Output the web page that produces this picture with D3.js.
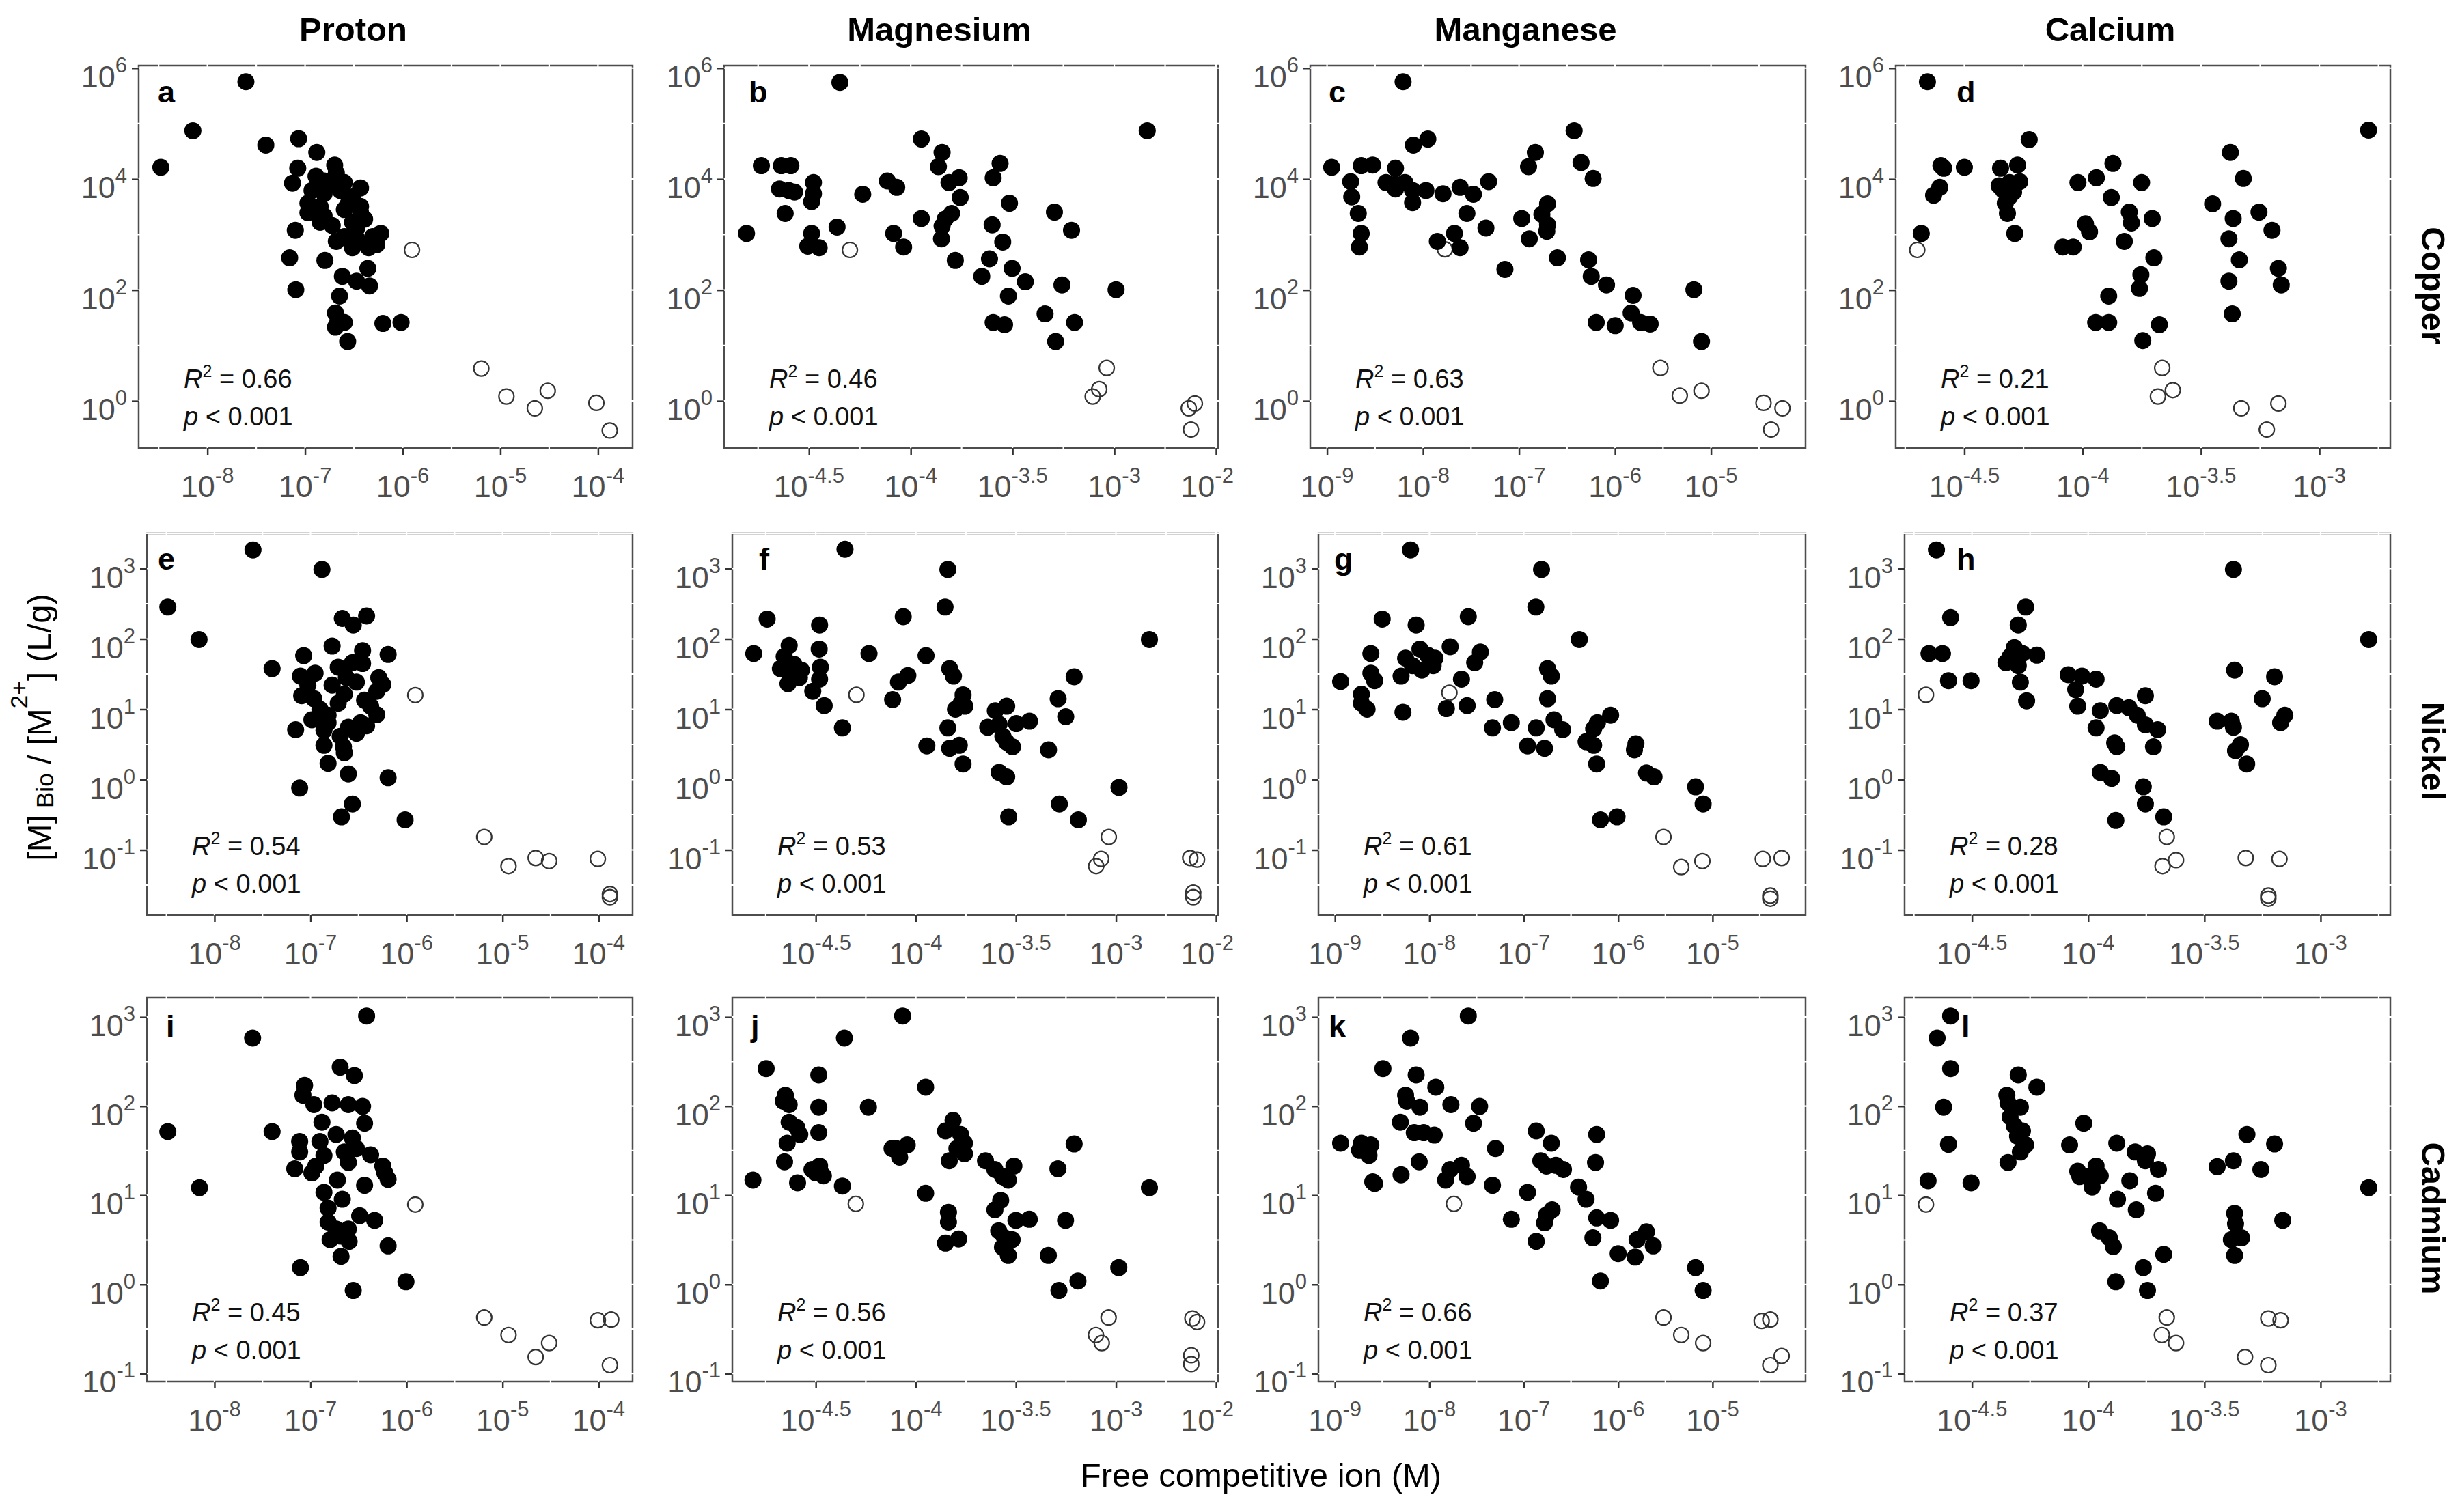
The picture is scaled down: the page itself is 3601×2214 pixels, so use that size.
<!DOCTYPE html>
<html>
<head>
<meta charset="utf-8">
<script src="https://cdn.jsdelivr.net/npm/d3@7"></script>
<style>
  body { margin: 0; background: #fff; }
  text { font-family: "Liberation Sans", Arial, sans-serif; }
</style>
</head>
<body>
<script>

// facet names
var ions = ["Proton", "Magnesium", "Manganese", "Calcium"];
var metals = ["Copper", "Nickel", "Cadmium"];
var panelLetters = ["a","b","c","d","e","f","g","h","i","j","k","l"];
var r2Values = ["0.66","0.46","0.63","0.21","0.54","0.53","0.61","0.28","0.45","0.56","0.66","0.37"];

// tick exponents (base 10)
var xTicks = [[-8,-7,-6,-5,-4], [-4.5,-4,-3.5,-3,-2.5], [-9,-8,-7,-6,-5], [-4.5,-4,-3.5,-3]];
var yTicks = [[0,2,4,6], [-1,0,1,2,3], [-1,0,1,2,3]];

// points: [log10 free ion (M), log10 [M]Bio/[M2+] (L/g)]
// filled = used in regression, open = excluded
var aFill = [[-8.477,4.212],[-8.149,4.871],[-7.606,5.754],[-7.402,4.613],[-7.066,4.728],[-6.880,4.481],[-6.697,4.252],[-6.680,4.109],[-7.075,4.195],[-7.129,3.926],[-6.888,4.052],[-6.805,3.966],[-6.722,3.908],[-6.598,3.937],[-6.432,3.840],[-6.929,3.794],[-6.805,3.736],[-6.639,3.794],[-6.515,3.679],[-6.971,3.564],[-6.846,3.507],[-6.556,3.564],[-6.432,3.507],[-6.971,3.393],[-6.805,3.335],[-6.598,3.450],[-6.432,3.393],[-6.846,3.221],[-6.722,3.163],[-6.515,3.221],[-6.390,3.278],[-7.100,3.077],[-6.473,3.106],[-6.224,3.020],[-6.598,2.963],[-6.680,2.877],[-6.473,2.934],[-6.307,2.963],[-6.515,2.762],[-6.349,2.762],[-6.266,2.819],[-7.158,2.579],[-6.797,2.533],[-6.357,2.390],[-6.618,2.246],[-6.473,2.160],[-6.340,2.074],[-7.095,2.006],[-6.647,1.891],[-6.689,1.587],[-6.664,1.444],[-6.598,1.415],[-6.689,1.330],[-6.203,1.398],[-6.017,1.415],[-6.564,1.072]];
var aOpen = [[-5.905,2.722],[-5.195,0.585],[-4.938,0.080],[-4.647,-0.132],[-4.515,0.183],[-4.017,-0.034],[-3.880,-0.533]];

var bFill = [[-4.348,5.742],[-2.838,4.871],[-3.948,4.722],[-3.846,4.481],[-4.734,4.241],[-4.636,4.241],[-4.589,4.241],[-3.561,4.281],[-3.864,4.223],[-3.595,4.023],[-3.762,4.023],[-3.812,3.937],[-4.478,3.937],[-4.645,3.822],[-4.599,3.794],[-4.571,3.765],[-4.069,3.851],[-4.115,3.966],[-4.236,3.725],[-4.478,3.736],[-3.757,3.668],[-4.487,3.593],[-3.515,3.564],[-3.294,3.404],[-4.617,3.381],[-3.799,3.381],[-3.831,3.278],[-3.948,3.289],[-3.846,3.152],[-3.600,3.175],[-3.210,3.077],[-4.807,3.020],[-4.362,3.135],[-4.084,3.020],[-4.487,3.020],[-4.506,2.791],[-4.450,2.762],[-4.035,2.774],[-3.849,2.923],[-3.548,2.865],[-3.781,2.533],[-3.613,2.562],[-3.502,2.390],[-3.651,2.246],[-3.437,2.149],[-3.257,2.092],[-2.991,2.006],[-3.520,1.891],[-3.340,1.570],[-3.595,1.415],[-3.539,1.375],[-3.195,1.415],[-3.288,1.072]];
var bOpen = [[-4.299,2.722],[-3.037,0.596],[-3.074,0.212],[-3.106,0.080],[-2.604,-0.046],[-2.634,-0.132],[-2.623,-0.516]];

var cFill = [[-8.208,5.754],[-6.426,4.871],[-8.101,4.613],[-7.950,4.722],[-6.830,4.481],[-8.952,4.212],[-6.901,4.223],[-8.644,4.241],[-8.525,4.252],[-6.354,4.298],[-8.287,4.195],[-6.228,4.011],[-8.754,3.954],[-8.386,3.937],[-8.287,3.908],[-8.188,3.937],[-8.109,3.794],[-7.970,3.794],[-7.792,3.736],[-7.614,3.851],[-7.475,3.725],[-7.317,3.954],[-8.287,3.822],[-8.743,3.679],[-8.109,3.576],[-6.703,3.553],[-7.543,3.381],[-8.675,3.381],[-6.972,3.289],[-6.762,3.364],[-6.703,3.175],[-7.345,3.117],[-8.644,3.020],[-7.673,3.020],[-6.711,3.060],[-7.851,2.877],[-7.614,2.762],[-8.663,2.774],[-6.893,2.923],[-6.600,2.579],[-7.147,2.372],[-6.275,2.544],[-6.248,2.246],[-6.089,2.092],[-5.812,1.903],[-5.178,2.006],[-5.832,1.587],[-6.196,1.415],[-5.998,1.358],[-5.733,1.415],[-5.634,1.387],[-5.099,1.072]];
var cOpen = [[-7.772,2.733],[-5.527,0.596],[-5.325,0.097],[-5.099,0.183],[-4.453,-0.034],[-4.255,-0.132],[-4.374,-0.516]];

var dFill = [[-4.656,5.754],[-2.792,4.883],[-4.226,4.711],[-3.376,4.481],[-4.599,4.241],[-4.587,4.195],[-4.500,4.212],[-4.347,4.195],[-4.275,4.252],[-3.872,4.281],[-3.942,4.023],[-4.020,3.937],[-3.751,3.937],[-3.321,4.011],[-4.353,3.880],[-4.309,3.937],[-4.266,3.954],[-4.604,3.851],[-4.630,3.708],[-4.335,3.794],[-4.292,3.765],[-4.327,3.564],[-4.309,3.679],[-3.879,3.668],[-3.451,3.553],[-3.255,3.404],[-3.803,3.404],[-3.706,3.289],[-4.318,3.381],[-3.794,3.209],[-3.364,3.289],[-3.988,3.192],[-3.971,3.049],[-3.200,3.077],[-4.682,3.020],[-4.287,3.020],[-4.084,2.774],[-4.040,2.774],[-3.824,2.877],[-3.382,2.923],[-3.699,2.579],[-3.338,2.544],[-3.754,2.275],[-3.173,2.390],[-3.760,2.029],[-3.382,2.160],[-3.161,2.092],[-3.890,1.891],[-3.945,1.415],[-3.890,1.415],[-3.368,1.570],[-3.676,1.375],[-3.746,1.089]];
var dOpen = [[-4.699,2.722],[-3.664,0.596],[-3.619,0.195],[-3.682,0.080],[-3.330,-0.132],[-3.173,-0.046],[-3.222,-0.516]];

var eFill = [[-8.486,2.453],[-8.161,1.991],[-7.599,3.265],[-6.881,2.987],[-7.400,1.577],[-6.669,2.291],[-6.416,2.325],[-6.555,2.197],[-6.775,1.897],[-6.458,1.833],[-6.192,1.778],[-7.071,1.761],[-7.105,1.470],[-6.952,1.513],[-6.712,1.598],[-6.564,1.662],[-6.458,1.650],[-6.627,1.449],[-6.289,1.449],[-6.247,1.350],[-6.310,1.256],[-7.092,1.192],[-6.965,1.150],[-6.712,1.085],[-6.374,1.043],[-6.902,1.000],[-6.817,0.915],[-6.310,0.923],[-6.986,0.850],[-6.817,0.808],[-6.479,0.808],[-6.606,0.744],[-6.416,0.765],[-7.155,0.709],[-6.860,0.487],[-6.657,0.466],[-6.648,0.380],[-6.817,0.231],[-6.606,0.081],[-6.192,0.026],[-7.113,-0.120],[-6.564,-0.346],[-6.678,-0.530],[-6.015,-0.573],[-7.028,1.342],[-6.775,1.342],[-6.522,1.385],[-6.648,1.214],[-6.437,1.128],[-6.860,0.701],[-6.691,0.615],[-6.522,0.658]];
var eOpen = [[-5.909,1.201],[-5.191,-0.816],[-4.938,-1.231],[-4.655,-1.115],[-4.515,-1.158],[-4.008,-1.128],[-3.882,-1.628],[-3.882,-1.671]];

var fFill = [[-4.354,3.274],[-3.840,2.987],[-3.854,2.453],[-4.063,2.316],[-4.743,2.282],[-4.481,2.197],[-2.833,1.991],[-4.810,1.791],[-4.234,1.791],[-3.949,1.761],[-4.483,1.855],[-4.633,1.906],[-4.658,1.748],[-4.610,1.641],[-4.477,1.598],[-4.677,1.577],[-4.572,1.556],[-3.831,1.577],[-3.812,1.470],[-4.629,1.427],[-4.582,1.449],[-4.481,1.427],[-4.040,1.479],[-4.087,1.385],[-4.639,1.363],[-4.515,1.256],[-3.764,1.205],[-4.116,1.137],[-3.209,1.462],[-3.289,1.150],[-4.458,1.051],[-3.774,1.085],[-3.802,1.000],[-3.755,1.043],[-3.546,1.043],[-3.603,0.979],[-3.432,0.829],[-3.498,0.795],[-3.251,0.893],[-3.641,0.744],[-3.584,0.786],[-4.367,0.735],[-3.840,0.735],[-3.945,0.479],[-3.831,0.444],[-3.783,0.487],[-3.565,0.615],[-3.546,0.530],[-3.517,0.466],[-3.337,0.423],[-3.764,0.222],[-3.584,0.103],[-3.546,0.038],[-2.985,-0.111],[-3.283,-0.346],[-3.536,-0.530],[-3.188,-0.573]];
var fOpen = [[-4.297,1.205],[-3.036,-0.816],[-3.074,-1.128],[-3.099,-1.231],[-2.629,-1.115],[-2.595,-1.137],[-2.614,-1.607],[-2.614,-1.671]];

var gFill = [[-8.200,3.265],[-6.812,2.987],[-6.872,2.453],[-8.500,2.282],[-8.140,2.197],[-7.588,2.316],[-6.412,1.991],[-8.620,1.791],[-7.780,1.889],[-7.460,1.812],[-7.520,1.662],[-8.252,1.726],[-8.100,1.855],[-8.020,1.769],[-7.940,1.726],[-8.180,1.620],[-8.080,1.556],[-7.960,1.620],[-8.300,1.470],[-8.620,1.513],[-8.580,1.406],[-8.940,1.393],[-7.660,1.427],[-6.748,1.577],[-6.708,1.470],[-8.720,1.214],[-8.720,1.085],[-8.660,1.000],[-6.748,1.150],[-8.280,0.957],[-7.820,1.009],[-7.600,1.051],[-7.308,1.137],[-7.332,0.735],[-7.132,0.808],[-6.868,0.735],[-6.680,0.850],[-6.588,0.709],[-6.220,0.808],[-6.080,0.915],[-6.260,0.722],[-6.340,0.538],[-6.260,0.487],[-6.960,0.479],[-6.780,0.444],[-5.812,0.509],[-5.828,0.423],[-6.228,0.222],[-5.700,0.094],[-5.620,0.038],[-5.180,-0.103],[-5.100,-0.346],[-6.188,-0.573],[-6.012,-0.530]];
var gOpen = [[-7.788,1.235],[-5.520,-0.816],[-5.332,-1.244],[-5.108,-1.158],[-4.468,-1.128],[-4.268,-1.115],[-4.388,-1.650],[-4.388,-1.692]];

var hFill = [[-4.653,3.265],[-3.375,2.987],[-4.269,2.453],[-4.592,2.303],[-4.301,2.197],[-2.793,1.991],[-4.685,1.791],[-4.627,1.791],[-4.336,1.748],[-4.221,1.769],[-4.354,1.662],[-4.318,1.876],[-4.283,1.791],[-4.301,1.620],[-3.370,1.556],[-4.086,1.491],[-4.027,1.470],[-3.966,1.427],[-4.601,1.406],[-4.504,1.406],[-4.292,1.385],[-4.054,1.278],[-3.754,1.192],[-4.045,1.043],[-3.198,1.462],[-4.265,1.120],[-3.251,1.150],[-3.948,0.979],[-3.877,1.051],[-3.825,1.021],[-3.789,0.915],[-3.445,0.829],[-3.384,0.829],[-3.154,0.915],[-3.172,0.808],[-3.966,0.735],[-3.754,0.778],[-3.701,0.709],[-3.375,0.744],[-3.886,0.521],[-3.877,0.466],[-3.719,0.466],[-3.345,0.496],[-3.366,0.410],[-3.318,0.222],[-3.948,0.103],[-3.899,0.017],[-3.763,-0.103],[-3.754,-0.346],[-3.881,-0.581],[-3.675,-0.530]];
var hOpen = [[-4.698,1.205],[-3.662,-0.816],[-3.622,-1.145],[-3.680,-1.231],[-3.322,-1.115],[-3.177,-1.128],[-3.225,-1.650],[-3.225,-1.692]];

var iFill = [[-6.416,3.012],[-7.603,2.764],[-6.691,2.438],[-6.543,2.343],[-8.486,1.714],[-7.400,1.714],[-7.062,2.233],[-7.079,2.123],[-6.965,2.017],[-6.775,2.036],[-6.606,2.017],[-6.458,1.997],[-6.437,1.808],[-6.881,1.820],[-7.113,1.604],[-6.902,1.604],[-6.733,1.682],[-6.564,1.643],[-6.522,1.525],[-7.113,1.486],[-6.860,1.446],[-6.648,1.486],[-6.374,1.454],[-6.247,1.328],[-7.164,1.297],[-6.944,1.328],[-6.606,1.368],[-6.986,1.250],[-6.226,1.250],[-6.192,1.179],[-6.437,1.112],[-6.720,1.171],[-6.860,1.033],[-6.669,0.955],[-8.156,1.085],[-6.817,0.856],[-6.488,0.770],[-6.332,0.719],[-6.817,0.699],[-6.733,0.620],[-6.606,0.620],[-6.796,0.502],[-6.691,0.542],[-6.598,0.483],[-6.682,0.314],[-6.192,0.432],[-7.105,0.188],[-6.006,0.030],[-6.555,-0.068]];
var iOpen = [[-5.909,0.896],[-5.191,-0.371],[-4.938,-0.567],[-4.655,-0.815],[-4.515,-0.658],[-4.008,-0.402],[-3.869,-0.394],[-3.882,-0.906]];

var jFill = [[-4.066,3.012],[-4.357,2.764],[-4.748,2.422],[-4.485,2.351],[-3.951,2.213],[-4.652,2.123],[-4.662,2.056],[-4.633,2.017],[-4.485,1.989],[-4.237,1.989],[-4.633,1.820],[-4.595,1.761],[-4.580,1.682],[-4.485,1.702],[-4.643,1.584],[-4.656,1.376],[-4.814,1.171],[-4.591,1.140],[-4.367,1.104],[-4.519,1.289],[-4.481,1.328],[-4.500,1.250],[-4.462,1.218],[-4.100,1.525],[-4.081,1.427],[-4.043,1.564],[-4.119,1.525],[-3.814,1.840],[-3.852,1.722],[-3.776,1.682],[-3.757,1.584],[-3.795,1.525],[-3.833,1.387],[-3.757,1.466],[-3.951,1.022],[-3.652,1.387],[-3.605,1.289],[-3.567,1.210],[-3.538,1.171],[-3.510,1.328],[-3.290,1.297],[-3.209,1.576],[-2.833,1.085],[-3.576,0.943],[-3.605,0.837],[-3.837,0.809],[-3.837,0.699],[-3.500,0.719],[-3.433,0.731],[-3.252,0.719],[-3.586,0.601],[-3.557,0.522],[-3.519,0.502],[-3.567,0.416],[-3.538,0.325],[-3.852,0.463],[-3.786,0.510],[-3.338,0.325],[-2.986,0.188],[-3.190,0.038],[-3.285,-0.068]];
var jOpen = [[-4.300,0.904],[-3.037,-0.371],[-3.100,-0.567],[-3.071,-0.658],[-2.618,-0.382],[-2.595,-0.422],[-2.624,-0.795],[-2.624,-0.894]];

var kFill = [[-7.588,3.012],[-8.200,2.764],[-8.492,2.422],[-8.140,2.351],[-7.932,2.213],[-8.252,2.123],[-8.240,2.056],[-8.100,1.989],[-7.772,2.017],[-7.468,1.997],[-7.532,1.808],[-8.308,1.820],[-8.160,1.702],[-8.060,1.702],[-7.948,1.675],[-8.940,1.584],[-8.720,1.584],[-8.620,1.564],[-8.740,1.505],[-8.640,1.446],[-7.300,1.525],[-6.868,1.722],[-6.708,1.584],[-6.228,1.682],[-6.240,1.368],[-6.820,1.387],[-6.760,1.328],[-6.660,1.336],[-6.580,1.289],[-8.108,1.376],[-7.780,1.289],[-7.660,1.336],[-7.600,1.210],[-8.300,1.230],[-7.828,1.171],[-8.600,1.151],[-8.580,1.132],[-7.332,1.112],[-6.960,1.033],[-6.420,1.092],[-6.340,0.955],[-7.132,0.731],[-6.700,0.837],[-6.760,0.778],[-6.780,0.691],[-6.228,0.746],[-6.080,0.719],[-6.268,0.522],[-6.868,0.483],[-5.800,0.502],[-5.700,0.589],[-5.628,0.432],[-6.000,0.345],[-5.820,0.306],[-6.188,0.038],[-5.180,0.188],[-5.100,-0.068]];
var kOpen = [[-7.740,0.904],[-5.520,-0.371],[-5.332,-0.567],[-5.100,-0.658],[-4.480,-0.410],[-4.388,-0.394],[-4.268,-0.803],[-4.388,-0.906]];

var lFill = [[-4.592,3.012],[-4.650,2.764],[-4.592,2.422],[-4.301,2.351],[-4.221,2.213],[-4.622,1.989],[-4.350,2.123],[-4.345,2.036],[-4.292,1.989],[-4.336,1.879],[-4.318,1.781],[-4.283,1.722],[-4.304,1.663],[-4.269,1.564],[-4.292,1.486],[-4.345,1.368],[-4.601,1.572],[-4.019,1.808],[-4.080,1.564],[-3.877,1.584],[-3.798,1.486],[-3.745,1.466],[-3.754,1.387],[-3.698,1.289],[-3.317,1.682],[-3.198,1.576],[-3.375,1.387],[-3.445,1.321],[-3.257,1.289],[-4.689,1.163],[-4.504,1.140],[-4.045,1.269],[-4.036,1.210],[-3.966,1.328],[-3.983,1.092],[-4.001,1.210],[-3.948,1.218],[-3.821,1.163],[-3.710,1.022],[-3.874,0.955],[-3.793,0.837],[-3.370,0.797],[-3.366,0.680],[-3.163,0.719],[-3.951,0.601],[-3.909,0.522],[-3.892,0.424],[-3.384,0.502],[-3.340,0.522],[-3.370,0.325],[-3.675,0.337],[-3.763,0.188],[-3.881,0.030],[-3.745,-0.068],[-2.793,1.085]];
var lOpen = [[-4.698,0.896],[-3.662,-0.371],[-3.683,-0.567],[-3.622,-0.658],[-3.225,-0.382],[-3.172,-0.402],[-3.325,-0.815],[-3.225,-0.906]];

var filled = [aFill,bFill,cFill,dFill,eFill,fFill,gFill,hFill,iFill,jFill,kFill,lFill];
var opened = [aOpen,bOpen,cOpen,dOpen,eOpen,fOpen,gOpen,hOpen,iOpen,jOpen,kOpen,lOpen];

// layout (pixels) and axis ranges (log10)
var colLeft = [[203,1060,1918,2775],[215,1072,1930,2788],[215,1072,1930,2788]];
var colRight = [926,1783,2643,3499];
var rowTop = [96,781,1461], rowBottom = [656,1340,2023];
var xExtent = [[-8.704,-3.646],[-4.917,-2.490],[-9.175,-4.015],[-4.790,-2.700]];
var yExtent = [[-0.848,6.046],[-1.927,3.5],[-1.090,3.216]];
var xGridStep = [0.5,0.25,0.5,0.25], yGridStep = [1,0.5,0.5];
var letterPos = [[28,54],[36,54],[27,54],[89,54],[16,53],[39,53],[23,53],[76,53],[28,57],[27,57],[15,57],[83,57]];
var titleX = [517,1375,2233,3089];
var stripY = [418,1100,1784];

var p10 = function(v) { return Math.pow(10, v); };

var svg = d3.select("body").append("svg")
    .attr("width", 3601)
    .attr("height", 2214)
    .style("background", "#fff");

svg.append("defs").append("clipPath").attr("id", "clipcol2")
  .append("rect").attr("x", 0).attr("y", 0).attr("width", 1805).attr("height", 2214);

function gridValues(ext, step) {
  var out = [];
  for (var v = Math.ceil(ext[0] / step) * step; v <= ext[1] + 1e-9; v += step) out.push(+v.toFixed(3));
  return out;
}

panelLetters.forEach(function(letter, i) {
  var row = Math.floor(i / 4), col = i % 4;
  var left = colLeft[row][col], right = colRight[col],
      top = rowTop[row], bottom = rowBottom[row];

  var x = d3.scaleLog()
      .domain([p10(xExtent[col][0]), p10(xExtent[col][1])])
      .range([left, right]);
  var y = d3.scaleLog()
      .domain([p10(yExtent[row][0]), p10(yExtent[row][1])])
      .range([bottom, top]);

  var g = svg.append("g").attr("class", "panel");

  g.append("rect")
      .attr("x", left).attr("y", top)
      .attr("width", right - left).attr("height", bottom - top)
      .attr("fill", "#fff")
      .attr("stroke", "#4d4d4d")
      .attr("stroke-width", 2.5);

  // white grid lines (only visible where they cut the border)
  g.selectAll(".gx").data(gridValues(xExtent[col], xGridStep[col])).enter()
    .append("line")
      .attr("x1", function(d) { return x(p10(d)); })
      .attr("x2", function(d) { return x(p10(d)); })
      .attr("y1", top - 2).attr("y2", bottom + 2)
      .attr("stroke", "#fff").attr("stroke-width", 2.2);
  g.selectAll(".gy").data(gridValues(yExtent[row], yGridStep[row])).enter()
    .append("line")
      .attr("y1", function(d) { return y(p10(d)); })
      .attr("y2", function(d) { return y(p10(d)); })
      .attr("x1", left - 2).attr("x2", right + 2)
      .attr("stroke", "#fff").attr("stroke-width", 2.2);

  // axes ticks
  var ax = g.append("g")
      .attr("transform", "translate(0," + bottom + ")")
      .call(d3.axisBottom(x).tickValues(xTicks[col].map(p10)).tickSize(10).tickFormat(""));
  var ay = g.append("g")
      .attr("transform", "translate(" + left + ",0)")
      .call(d3.axisLeft(y).tickValues(yTicks[row].map(p10)).tickSize(10).tickFormat(""));
  [ax, ay].forEach(function(a) {
    a.select(".domain").remove();
    a.selectAll("line").attr("stroke", "#333").attr("stroke-width", 2.5);
  });

  // tick labels 10^n
  var xl = g.append("g");
  if (col === 1) xl.attr("clip-path", "url(#clipcol2)");
  xTicks[col].forEach(function(t) {
    var txt = xl.append("text")
        .attr("x", x(p10(t)))
        .attr("y", bottom + 72)
        .attr("text-anchor", "middle")
        .attr("font-size", 45)
        .attr("fill", "#4d4d4d");
    txt.append("tspan").text("10");
    txt.append("tspan").attr("dy", -21).attr("font-size", 31).text(t);
  });
  yTicks[row].forEach(function(t) {
    var txt = g.append("text")
        .attr("x", left - 17)
        .attr("y", y(p10(t)) + 28)
        .attr("text-anchor", "end")
        .attr("font-size", 45)
        .attr("fill", "#4d4d4d");
    txt.append("tspan").text("10");
    txt.append("tspan").attr("dy", -22).attr("font-size", 31).text(t);
  });

  // points
  g.selectAll(".open").data(opened[i]).enter()
    .append("circle")
      .attr("cx", function(d) { return x(p10(d[0])); })
      .attr("cy", function(d) { return y(p10(d[1])); })
      .attr("r", 11)
      .attr("fill", "none")
      .attr("stroke", "#333")
      .attr("stroke-width", 2.2);
  g.selectAll(".fill").data(filled[i]).enter()
    .append("circle")
      .attr("cx", function(d) { return x(p10(d[0])); })
      .attr("cy", function(d) { return y(p10(d[1])); })
      .attr("r", 12.5)
      .attr("fill", "#000");

  // panel letter
  g.append("text")
      .attr("x", left + letterPos[i][0])
      .attr("y", top + letterPos[i][1])
      .attr("font-size", 45)
      .attr("font-weight", "bold")
      .text(letter);

  // statistics
  var r2 = g.append("text")
      .attr("x", left + 66).attr("y", bottom - 88)
      .attr("font-size", 38).attr("fill", "#111");
  r2.append("tspan").attr("font-style", "italic").text("R");
  r2.append("tspan").attr("dy", -16).attr("font-size", 25).text("2");
  r2.append("tspan").attr("dy", 16).text(" = " + r2Values[i]);

  var pv = g.append("text")
      .attr("x", left + 66).attr("y", bottom - 33)
      .attr("font-size", 38).attr("fill", "#111");
  pv.append("tspan").attr("font-style", "italic").text("p");
  pv.append("tspan").text(" < 0.001");
});

// column titles
svg.selectAll(".coltitle").data(ions).enter()
  .append("text")
    .attr("x", function(d, i) { return titleX[i]; })
    .attr("y", 60)
    .attr("text-anchor", "middle")
    .attr("font-size", 49)
    .attr("font-weight", "bold")
    .text(function(d) { return d; });

// row strips
svg.selectAll(".rowtitle").data(metals).enter()
  .append("text")
    .attr("transform", function(d, i) { return "translate(3545," + stripY[i] + ") rotate(90)"; })
    .attr("text-anchor", "middle")
    .attr("font-size", 49)
    .attr("font-weight", "bold")
    .text(function(d) { return d; });

// axis titles
svg.append("text")
    .attr("x", 1846).attr("y", 2177)
    .attr("text-anchor", "middle")
    .attr("font-size", 49)
    .text("Free competitive ion (M)");

var yt = svg.append("text")
    .attr("transform", "translate(74,1065) rotate(-90)")
    .attr("text-anchor", "middle")
    .attr("font-size", 49);
yt.append("tspan").text("[M]");
yt.append("tspan").attr("font-size", 35).attr("dy", 4).text(" Bio");
yt.append("tspan").attr("dy", -4).text(" / [M");
yt.append("tspan").attr("font-size", 35).attr("dy", -34).text("2+");
yt.append("tspan").attr("dy", 34).text("] (L/g)");

</script>
</body>
</html>
